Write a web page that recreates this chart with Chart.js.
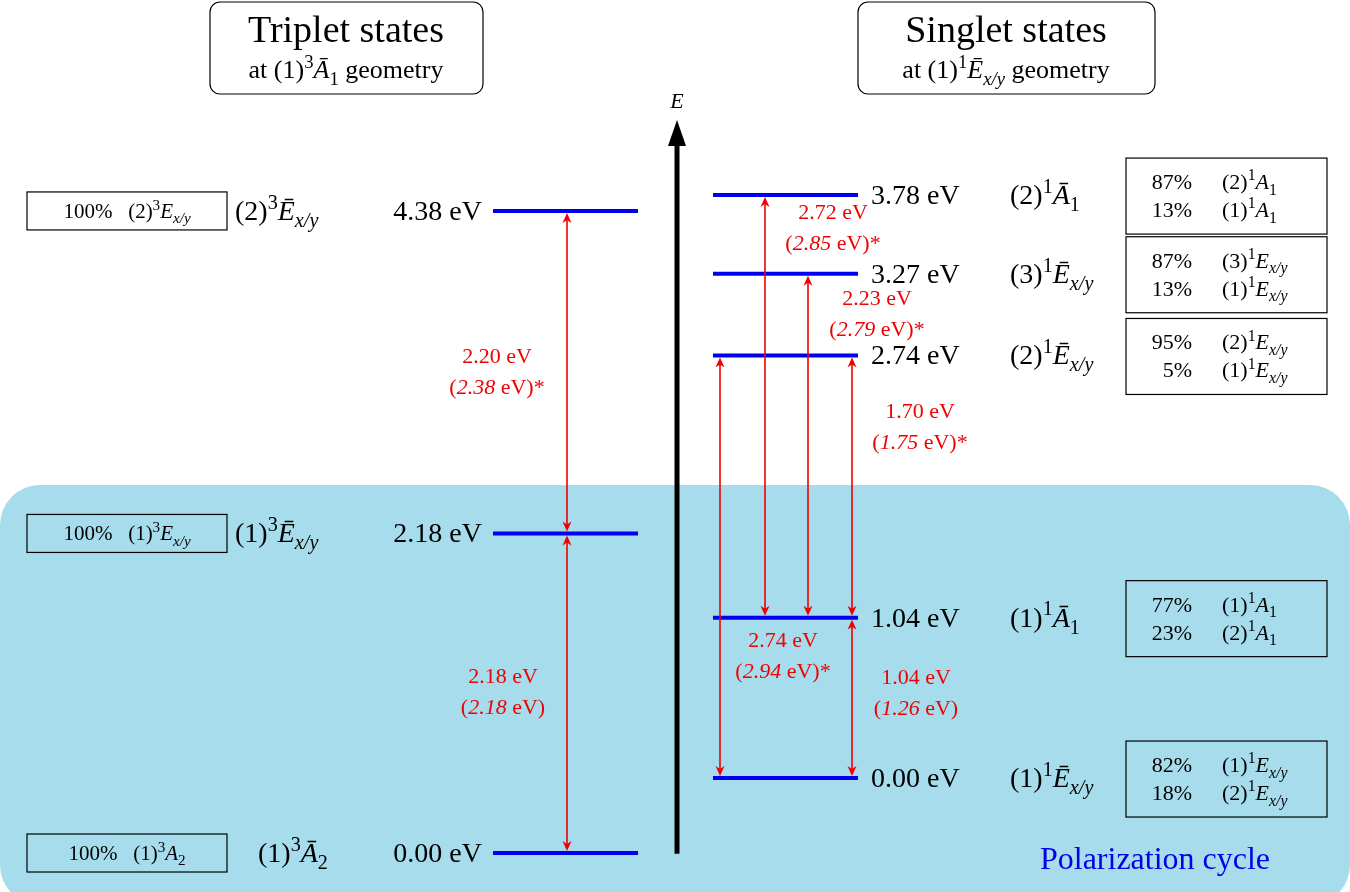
<!DOCTYPE html>
<html><head><meta charset="utf-8">
<script src="https://cdn.jsdelivr.net/npm/chart.js@4/dist/chart.umd.min.js"></script>
<style>html,body{margin:0;padding:0;background:#fff}#wrap{width:1350px;height:892px}</style>
</head><body><div id="wrap"><canvas id="c"></canvas></div>
<script>
// energies (eV)
const tripletE = [0.00, 2.18, 4.38];
const tripletState = [['(1)','3','Ā','2'], ['(1)','3','Ē','x/y'], ['(2)','3','Ē','x/y']];
const tripletComp = [['100%','(1)','3','A','2'], ['100%','(1)','3','E','x/y'], ['100%','(2)','3','E','x/y']];
const singletE = [0.00, 1.04, 2.74, 3.27, 3.78];
const singletState = [['(1)','1','Ē','x/y'], ['(1)','1','Ā','1'], ['(2)','1','Ē','x/y'], ['(3)','1','Ē','x/y'], ['(2)','1','Ā','1']];
const singletComp = [
  [['82%','(1)','1','E','x/y'], ['18%','(2)','1','E','x/y']],
  [['77%','(1)','1','A','1'], ['23%','(2)','1','A','1']],
  [['95%','(2)','1','E','x/y'], ['5%','(1)','1','E','x/y']],
  [['87%','(3)','1','E','x/y'], ['13%','(1)','1','E','x/y']],
  [['87%','(2)','1','A','1'], ['13%','(1)','1','A','1']]
];
// transitions: [side, x, from, to, label, italic value, star]
const transitions = [
  ['T', 567, 0.00, 2.18, '2.18', '2.18', false],
  ['T', 567, 2.18, 4.38, '2.20', '2.38', true],
  ['S', 765, 1.04, 3.78, '2.72', '2.85', true],
  ['S', 808, 1.04, 3.27, '2.23', '2.79', true],
  ['S', 852, 1.04, 2.74, '1.70', '1.75', true],
  ['S', 720, 0.00, 2.74, '2.74', '2.94', true],
  ['S', 852, 0.00, 1.04, '1.04', '1.26', false]
];
const transLabelPos = [[503, 691], [497, 371], [833, 227], [877, 313], [920, 426], [783, 655], [916, 692]];

const SERIF = '"Liberation Serif", "DejaVu Serif", serif';
const RED = '#f00000', BLUE = '#0000ee';

function fontFor(p, s) { return (p[2] || '') + ' ' + (p[1] === 'n' ? s : s * 0.72) + 'px ' + SERIF; }
function measureRich(ctx, parts, s) {
  let w = 0;
  for (const p of parts) { ctx.font = fontFor(p, s); w += ctx.measureText(p[0]).width; }
  return w;
}
function drawRich(ctx, x, y, parts, s, color, align) {
  const w = measureRich(ctx, parts, s);
  if (align === 'center') x -= w / 2; else if (align === 'right') x -= w;
  ctx.fillStyle = color; ctx.textBaseline = 'alphabetic'; ctx.textAlign = 'left';
  for (const p of parts) {
    ctx.font = fontFor(p, s);
    const dy = p[1] === 'sup' ? -s * 0.4 : p[1] === 'sub' ? s * 0.25 : 0;
    ctx.fillText(p[0], x, y + dy);
    x += ctx.measureText(p[0]).width;
  }
}
function stateParts(st) {
  return [[st[0], 'n'], [st[1], 'sup'], [st[2], 'n', 'italic'], [st[3], 'sub', st[3] === 'x/y' ? 'italic' : '']];
}
function compParts(c, gap) {
  return [[c[1], 'n'], [c[2], 'sup'], [c[3], 'n', 'italic'], [c[4], 'sub', c[4] === 'x/y' ? 'italic' : '']];
}
function roundRect(ctx, x, y, w, h, r) { ctx.beginPath(); ctx.roundRect(x, y, w, h, r); }
function arrowHead(ctx, x, y, dir) {
  ctx.beginPath(); ctx.moveTo(x, y); ctx.lineTo(x - 4.5, y - dir * 10); ctx.lineTo(x, y - dir * 7); ctx.lineTo(x + 4.5, y - dir * 10); ctx.closePath(); ctx.fill();
}

const levelData = (E, x0, x1) => E.map(e => [{x: x0, y: e}, {x: x1, y: e}]);
const datasets = [];
levelData(tripletE, 493, 638).forEach(d => datasets.push({data: d, yAxisID: 'yT', borderColor: BLUE, borderWidth: 4, pointRadius: 0, showLine: true}));
levelData(singletE, 713, 858).forEach(d => datasets.push({data: d, yAxisID: 'yS', borderColor: BLUE, borderWidth: 4, pointRadius: 0, showLine: true}));

const bgPlugin = {
  id: 'bg',
  beforeDatasetsDraw(chart) {
    const ctx = chart.ctx, yT = chart.scales.yT;
    ctx.save();
    ctx.fillStyle = '#a6dcec';
    roundRect(ctx, 0, 485, 1350, 420, 40); ctx.fill();
    ctx.strokeStyle = '#000'; ctx.lineWidth = 1.2;
    [[210, 2, 273, 92, 346, 'Triplet states', ['(1)', '3', 'Ā', '1']], [858, 2, 297, 92, 1006, 'Singlet states', ['(1)', '1', 'Ē', 'x/y']]].forEach(b => {
      roundRect(ctx, b[0], b[1], b[2], b[3], 10); ctx.fillStyle = '#fff'; ctx.fill(); ctx.stroke();
      ctx.fillStyle = '#000'; ctx.font = '38px ' + SERIF; ctx.textAlign = 'center'; ctx.fillText(b[5], b[4], 42);
      drawRich(ctx, b[4], 78, [['at ', 'n']].concat(stateParts(b[6])).concat([[' geometry', 'n']]), 26, '#000', 'center');
    });
    ctx.strokeStyle = '#000'; ctx.lineWidth = 5;
    ctx.beginPath(); ctx.moveTo(677, yT.getPixelForValue(-0.005)); ctx.lineTo(677, 140); ctx.stroke();
    ctx.fillStyle = '#000'; ctx.beginPath(); ctx.moveTo(677, 120); ctx.lineTo(668, 146); ctx.lineTo(686, 146); ctx.closePath(); ctx.fill();
    ctx.font = 'italic 22px ' + SERIF; ctx.textAlign = 'center'; ctx.fillText('E', 677, 108);
    ctx.restore();
  },
  afterDatasetsDraw(chart) {
    const ctx = chart.ctx, yT = chart.scales.yT, yS = chart.scales.yS;
    ctx.save();
    tripletE.forEach((e, i) => {
      const y = yT.getPixelForValue(e);
      drawRich(ctx, 482, y + 9, [[e.toFixed(2) + ' eV', 'n']], 28, '#000', 'right');
      drawRich(ctx, i === 0 ? 258 : 235, y + 9, stateParts(tripletState[i]), 28, '#000', 'left');
      ctx.strokeStyle = '#000'; ctx.lineWidth = 1.2; ctx.strokeRect(27, y - 19, 200, 38);
      const c = tripletComp[i];
      drawRich(ctx, 127, y + 7, [[c[0] + '   ', 'n']].concat(compParts(c)), 21, '#000', 'center');
    });
    singletE.forEach((e, i) => {
      const y = yS.getPixelForValue(e);
      drawRich(ctx, 871, y + 9, [[e.toFixed(2) + ' eV', 'n']], 28, '#000', 'left');
      drawRich(ctx, 1010, y + 9, stateParts(singletState[i]), 28, '#000', 'left');
      ctx.strokeStyle = '#000'; ctx.lineWidth = 1.2; ctx.strokeRect(1126, y - 37, 201, 76);
      singletComp[i].forEach((c, k) => {
        const ly = y - 6 + k * 28;
        drawRich(ctx, 1192, ly, [[c[0], 'n']], 22, '#000', 'right');
        drawRich(ctx, 1222, ly, compParts(c), 22, '#000', 'left');
      });
    });
    ctx.strokeStyle = RED; ctx.fillStyle = RED; ctx.lineWidth = 1.6;
    transitions.forEach((t, i) => {
      const sc = t[0] === 'T' ? yT : yS;
      const y0 = sc.getPixelForValue(t[2]) - 2, y1 = sc.getPixelForValue(t[3]) + 2;
      ctx.strokeStyle = RED; ctx.fillStyle = RED;
      ctx.beginPath(); ctx.moveTo(t[1], y0 - 6); ctx.lineTo(t[1], y1 + 6); ctx.stroke();
      arrowHead(ctx, t[1], y0, 1); arrowHead(ctx, t[1], y1, -1);
      const p = transLabelPos[i];
      drawRich(ctx, p[0], p[1] - 8, [[t[4] + ' eV', 'n']], 22, RED, 'center');
      drawRich(ctx, p[0], p[1] + 23, [['(', 'n'], [t[5], 'n', 'italic'], [' eV)' + (t[6] ? '*' : ''), 'n']], 22, RED, 'center');
    });
    ctx.fillStyle = BLUE; ctx.font = '32px ' + SERIF; ctx.textAlign = 'center'; ctx.textBaseline = 'alphabetic';
    ctx.fillText('Polarization cycle', 1155, 869);
    ctx.restore();
  }
};

new Chart(document.getElementById('c'), {
  type: 'scatter',
  data: {datasets},
  options: {
    responsive: true, maintainAspectRatio: false, animation: false,
    layout: {padding: 0},
    plugins: {legend: {display: false}, tooltip: {enabled: false}},
    scales: {
      x: {type: 'linear', min: 0, max: 1350, display: false},
      yT: {type: 'linear', min: -0.266, max: 5.819, display: false},
      yS: {type: 'linear', min: -0.739, max: 5.045, display: false}
    }
  },
  plugins: [bgPlugin]
});
</script></body></html>
